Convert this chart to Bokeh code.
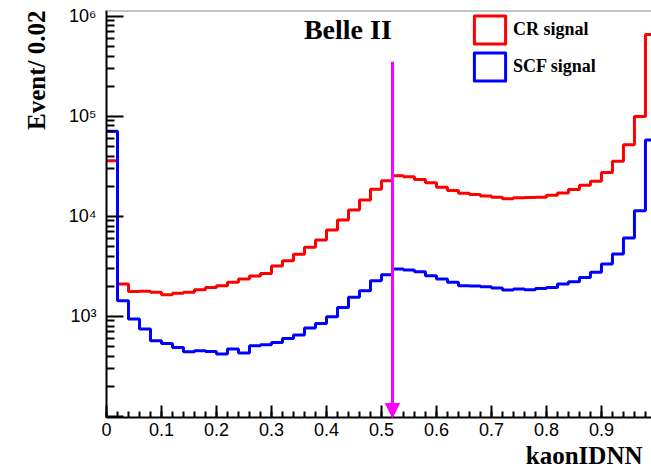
from bokeh.plotting import figure
from bokeh.models import (Range1d, FixedTicker, SingleIntervalTicker, Title, Legend, LegendItem,
                          Arrow, NormalHead, Label, Span)
from bokeh.embed import file_html
from bokeh.resources import INLINE

# ---- data ----
bin_width = 0.02
n_bins = 50
cr_signal = [36000, 2110, 1770, 1780, 1740, 1650, 1700, 1740, 1850, 1940,
             2030, 2190, 2370, 2540, 2690, 3190, 3600, 4170, 4900, 5800,
             7310, 9200, 11600, 14600, 18600, 22700, 25500, 24900, 23300, 21600,
             19500, 18100, 17000, 16500, 16000, 15500, 15000, 15300, 15400, 15500,
             16200, 17100, 18500, 20400, 22400, 27400, 35500, 52000, 99400, 656000]
scf_signal = [70800, 1435, 942, 748, 571, 537, 490, 444, 454, 447,
              421, 472, 430, 509, 521, 550, 603, 652, 765, 851,
              993, 1230, 1550, 1807, 2275, 2610, 2980, 2910, 2800, 2550,
              2366, 2190, 2030, 2010, 1980, 1920, 1836, 1880, 1850, 1905,
              1950, 2110, 2225, 2455, 2755, 3340, 4200, 6080, 11400, 58000]
series_names = ["CR signal", "SCF signal"]
cut_value = 0.52
arrow_top = 3.5e5
y_decades = [100, 1000, 10000, 100000, 1000000]
y_decade_labels = ["", "10\u00b3", "10\u2074", "10\u2075", "10\u2076"]
x_label = "kaonIDNN"
y_label = "Event/ 0.02"
experiment = "Belle II"

y_lo, y_hi = 97.7, 1.14e6
x_lo, x_hi = 0.0, 0.991

edges = [round(i * bin_width, 2) for i in range(n_bins + 1)]
minor_y = [m * d for d in y_decades[:-1] for m in range(2, 10)]
nan = float("nan")

RED, BLUE, MAG = "#ff0000", "#0000ff", "#ff00ff"
SERIF = "Liberation Serif"
SANS = "Liberation Sans"

p = figure(width=651, height=474, y_axis_type="log",
           x_range=Range1d(x_lo, x_hi), y_range=Range1d(y_lo, y_hi),
           output_backend="svg", toolbar_location=None,
           min_border_left=106, min_border_right=0, min_border_top=10, min_border_bottom=57)
p.outline_line_color = None
p.xgrid.visible = False
p.ygrid.visible = False
p.background_fill_color = "white"
p.border_fill_color = "white"

# histograms
p.step(edges, cr_signal + [cr_signal[-1]], mode="after", line_color=RED, line_width=3)
p.step(edges, scf_signal + [scf_signal[-1]], mode="after", line_color=BLUE, line_width=3)

# legend proxies (outlined boxes, nothing drawn in the frame)
r_cr = p.quad(left=[nan], right=[nan], top=[nan], bottom=[nan],
              fill_alpha=0, line_color=RED, line_width=3, line_join="round")
r_scf = p.quad(left=[nan], right=[nan], top=[nan], bottom=[nan],
               fill_alpha=0, line_color=BLUE, line_width=3, line_join="round")
legend = Legend(items=[LegendItem(label=series_names[0], renderers=[r_cr]),
                       LegendItem(label=series_names[1], renderers=[r_scf])],
                location=(364, 333), orientation="vertical",
                glyph_width=39, glyph_height=35, label_standoff=4, spacing=2,
                padding=0, margin=0, border_line_color=None, background_fill_alpha=0,
                label_text_font=SERIF, label_text_font_style="bold",
                label_text_font_size="18px", label_text_color="black")
p.add_layout(legend)

# arrow at the cut
p.add_layout(Arrow(end=NormalHead(size=14, fill_color=MAG, line_color=MAG, line_width=1),
                   x_start=cut_value, y_start=arrow_top, x_end=cut_value, y_end=y_lo,
                   line_color=MAG, line_width=3))

# experiment label
p.add_layout(Label(x=0.359, y=7.3e5, text=experiment, text_font=SERIF, text_font_style="bold",
                   text_font_size="28px", text_color="black", text_baseline="alphabetic"))

# top frame line
p.add_layout(Span(location=y_hi, dimension="width", line_color="#888888", line_width=2))

# axes
xa = p.xaxis[0]
xa.ticker = SingleIntervalTicker(interval=0.1, num_minor_ticks=5)
xa.major_label_overrides = {0: "0"}
ya = p.yaxis[0]
ya.ticker = FixedTicker(ticks=y_decades, minor_ticks=minor_y)
ya.major_label_overrides = dict(zip(y_decades, y_decade_labels))
for ax in (xa, ya):
    ax.axis_line_color = "black"
    ax.axis_line_width = 2
    ax.major_tick_line_color = "black"
    ax.minor_tick_line_color = "black"
    ax.major_tick_line_width = 2
    ax.minor_tick_line_width = 2
    ax.major_tick_out = 0
    ax.minor_tick_out = 0
    ax.major_label_text_font = SANS
    ax.major_label_text_font_size = "18px"
    ax.major_label_text_color = "black"
xa.major_tick_in = 12
xa.minor_tick_in = 6
xa.major_label_standoff = 5
ya.major_tick_in = 17
ya.minor_tick_in = 8
ya.major_label_standoff = 10

p.add_layout(Title(text=y_label, align="right", text_font=SERIF, text_font_style="bold",
                   text_font_size="25px", text_color="black", standoff=31), "left")
p.add_layout(Title(text=x_label, align="right", text_font=SERIF, text_font_style="bold",
                   text_font_size="25px", text_color="black", standoff=2, offset=9), "below")

open("out.html", "w").write(file_html(p, INLINE))
